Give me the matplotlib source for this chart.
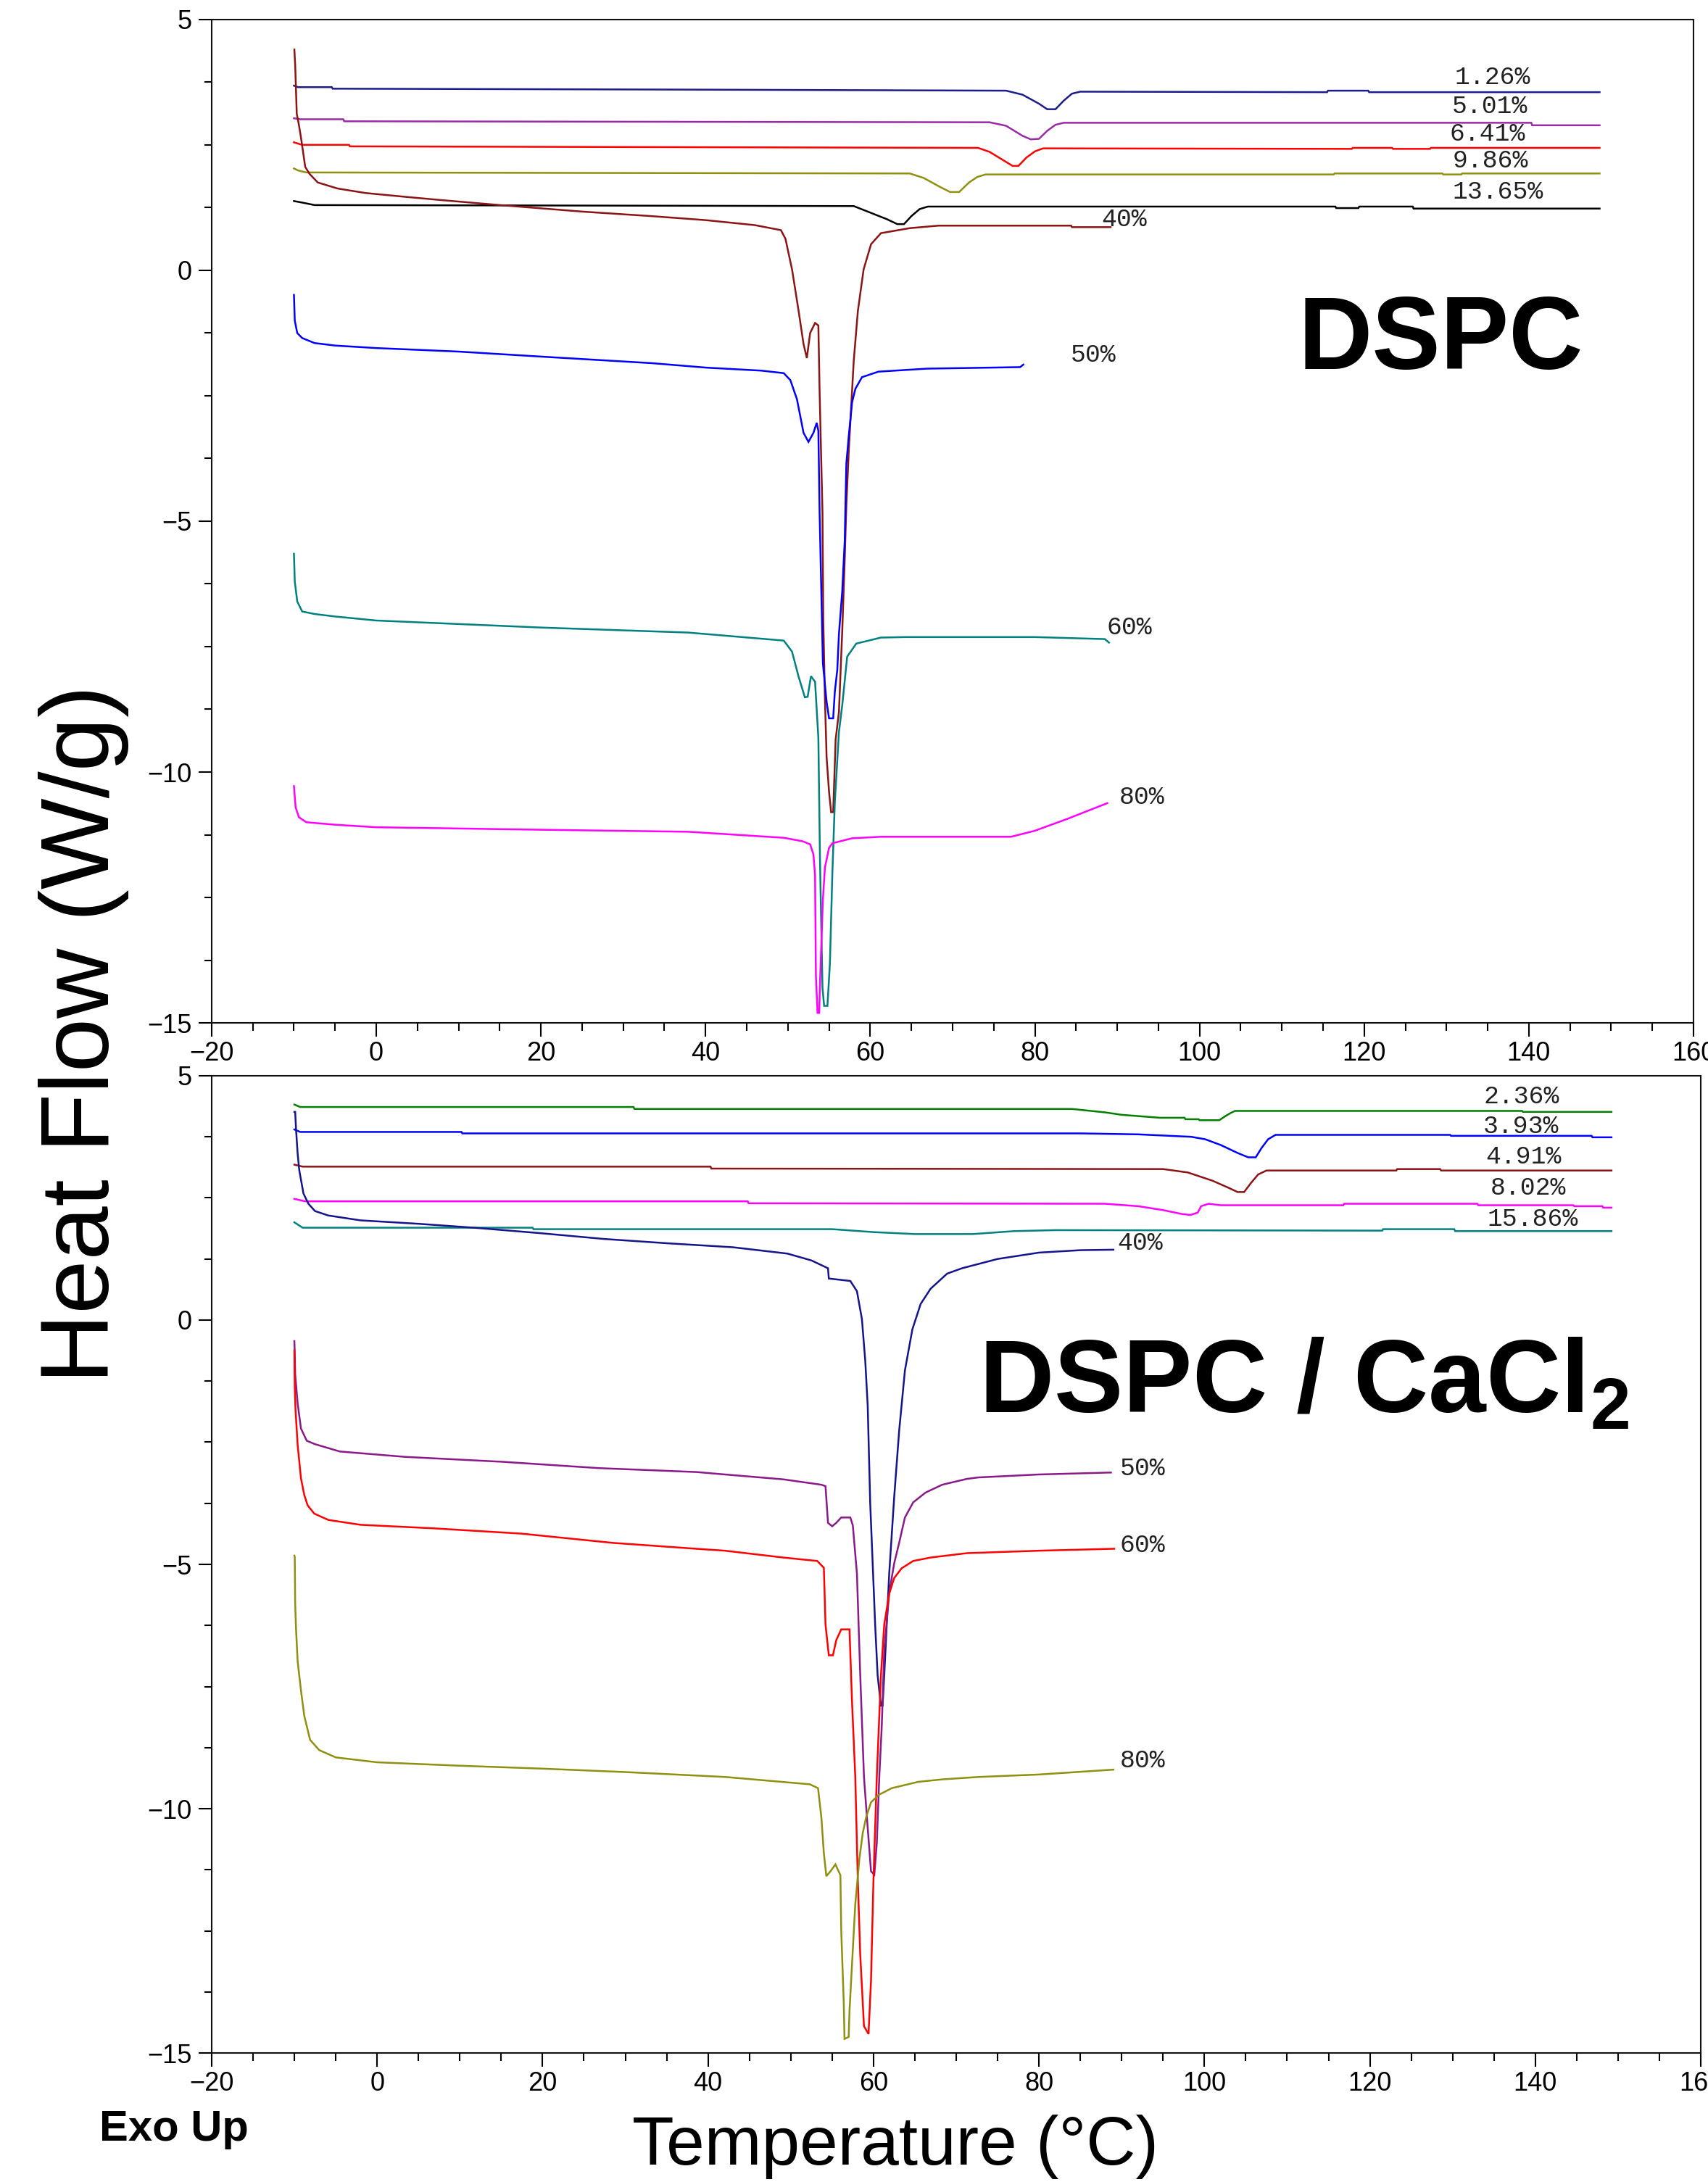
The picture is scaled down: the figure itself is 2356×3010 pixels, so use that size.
import matplotlib
matplotlib.use("Agg")
import matplotlib.pyplot as plt
from matplotlib.ticker import MultipleLocator

plt.rcParams['font.family'] = ['Liberation Sans', 'DejaVu Sans']
plt.rcParams['mathtext.fontset'] = 'custom'
plt.rcParams['mathtext.rm'] = 'Liberation Sans'
plt.rcParams['mathtext.bf'] = 'Liberation Sans:bold'

# ---- DSPC (top panel): (temperature degC, heat flow W/g) ----
dspc_1_26 = [(-10, 3.68), (-9.5, 3.65), (-5.4, 3.65), (-5.3, 3.62), (40, 3.60), (76.5, 3.58),
             (78.5, 3.50), (80.5, 3.32), (81.5, 3.21), (82.5, 3.21), (83.5, 3.38), (84.5, 3.52),
             (85.5, 3.56), (115.5, 3.55), (115.6, 3.58), (120.5, 3.58), (120.6, 3.55), (148.6, 3.55)]
dspc_5_01 = [(-10, 3.03), (-9.2, 3.01), (-4.0, 3.01), (-3.9, 2.97), (74.5, 2.95), (76.5, 2.88),
             (78.5, 2.68), (79.5, 2.61), (80.5, 2.62), (81.5, 2.78), (82.5, 2.90), (83.5, 2.94),
             (140.3, 2.94), (140.4, 2.89), (148.6, 2.89)]
dspc_6_41 = [(-10, 2.55), (-9.0, 2.50), (-3.3, 2.50), (-3.2, 2.47), (73.1, 2.44), (74.5, 2.36),
             (76.5, 2.16), (77.3, 2.08), (78.0, 2.08), (79.0, 2.25), (80.0, 2.37), (81.0, 2.43),
             (118.5, 2.42), (118.6, 2.44), (123.4, 2.44), (123.5, 2.42), (128.0, 2.42),
             (128.1, 2.44), (148.6, 2.44)]
dspc_9_86 = [(-10, 2.03), (-9.5, 1.99), (-8.5, 1.95), (64.8, 1.93), (66.5, 1.84), (68.5, 1.66),
             (69.7, 1.56), (70.8, 1.56), (72.0, 1.75), (73.0, 1.86), (74.0, 1.91), (116.3, 1.91),
             (116.4, 1.93), (129.5, 1.93), (129.6, 1.91), (131.8, 1.91), (131.9, 1.93), (148.6, 1.93)]
dspc_13_65 = [(-10, 1.38), (-9, 1.35), (-7.5, 1.30), (58.0, 1.28), (60.0, 1.15), (62.0, 1.02),
              (63.3, 0.92), (64.1, 0.92), (65.0, 1.08), (66.0, 1.22), (67.0, 1.27), (116.5, 1.27),
              (116.6, 1.24), (119.3, 1.24), (119.4, 1.27), (125.9, 1.27), (126.0, 1.23), (148.6, 1.23)]
dspc_40 = [(-9.95, 4.40), (-9.85, 4.10), (-9.66, 3.12), (-9.4, 2.90), (-9.14, 2.64), (-8.63, 2.06),
           (-8.1, 1.92), (-7.1, 1.75), (-4.7, 1.63), (-1.3, 1.54), (3.8, 1.46), (7.85, 1.40),
           (15, 1.30), (25, 1.17), (33.4, 1.08), (40, 1.00), (46, 0.90), (49.15, 0.80), (49.7, 0.63),
           (50.5, 0.02), (51.3, -0.81), (51.9, -1.47), (52.3, -1.75), (52.7, -1.25), (53.3, -1.05),
           (53.7, -1.10), (53.85, -2.41), (54.2, -4.83), (54.3, -7.0), (54.5, -8.54), (54.7, -9.7),
           (55.0, -10.4), (55.25, -10.8), (55.5, -10.8), (55.8, -9.35), (56.2, -8.8), (56.6, -7.19),
           (56.9, -5.76), (57.1, -4.67), (57.4, -3.57), (58.0, -1.80), (58.5, -0.81), (59.2, 0.02),
           (60.1, 0.52), (61.3, 0.74), (64.8, 0.84), (68.3, 0.89), (84.4, 0.89), (84.5, 0.86),
           (89.2, 0.86)]
dspc_50 = [(-10, -0.49), (-9.9, -1.0), (-9.6, -1.25), (-9.0, -1.35), (-7.5, -1.45), (-5, -1.50),
           (0, -1.55), (10, -1.62), (20, -1.72), (33.4, -1.85), (40.1, -1.94), (46.8, -2.0),
           (49.5, -2.05), (50.3, -2.19), (51.1, -2.57), (51.9, -3.24), (52.5, -3.42), (53.1, -3.24),
           (53.5, -3.04), (53.7, -3.20), (53.85, -4.83), (54.25, -7.83), (54.7, -8.6), (55.0, -8.93),
           (55.5, -8.93), (55.7, -8.4), (56.0, -7.96), (56.2, -7.25), (56.6, -6.4), (56.9, -5.4),
           (57.1, -3.85), (57.4, -3.29), (57.8, -2.63), (58.2, -2.36), (59.0, -2.13), (61.0, -2.02),
           (66.9, -1.96), (78.2, -1.93), (78.6, -1.88)]
dspc_60 = [(-10, -5.65), (-9.9, -6.2), (-9.6, -6.6), (-9.0, -6.8), (-7.5, -6.85), (-5, -6.9),
           (0, -6.98), (20, -7.12), (37.9, -7.22), (49.5, -7.38), (50.5, -7.6), (51.3, -8.1),
           (52.06, -8.51), (52.4, -8.5), (52.8, -8.09), (53.3, -8.2), (53.7, -9.32), (53.9, -11.77),
           (54.2, -14.3), (54.4, -14.66), (54.8, -14.66), (55.1, -13.83), (55.4, -12.02),
           (55.7, -10.6), (56.2, -9.2), (56.6, -8.67), (57.2, -7.70), (58.3, -7.44), (61.3, -7.32),
           (64.2, -7.31), (80, -7.31), (88.5, -7.35), (89.0, -7.42)]
dspc_80 = [(-10, -10.28), (-9.8, -10.7), (-9.4, -10.9), (-8.5, -11.0), (-5, -11.05), (0, -11.1),
           (20, -11.15), (37.9, -11.19), (46.6, -11.28), (49.5, -11.31), (51.8, -11.38),
           (52.7, -11.44), (53.1, -11.64), (53.3, -12.05), (53.4, -14.05), (53.6, -14.8),
           (53.8, -14.8), (53.9, -14.2), (54.25, -12.54), (54.5, -11.9), (55.0, -11.51),
           (55.4, -11.42), (57.8, -11.32), (61.3, -11.29), (77.1, -11.29), (80, -11.17),
           (84, -10.93), (88.8, -10.62)]

dspc_series = [dspc_1_26, dspc_5_01, dspc_6_41, dspc_9_86, dspc_13_65,
               dspc_40, dspc_50, dspc_60, dspc_80]
dspc_labels = ['1.26%', '5.01%', '6.41%', '9.86%', '13.65%', '40%', '50%', '60%', '80%']
dspc_colors = ['#1c1c8c', '#9a2aa6', '#ff0000', '#8f8f10', '#000000',
               '#8b1414', '#0000ff', '#008080', '#ff00ff']

# ---- DSPC / CaCl2 (bottom panel) ----
cacl_2_36 = [(-10, 4.41), (-9.3, 4.36), (31.0, 4.36), (31.1, 4.32), (84, 4.32), (88, 4.25),
             (90, 4.20), (94.6, 4.14), (97.6, 4.14), (97.7, 4.11), (99.3, 4.11), (99.4, 4.09),
             (101.8, 4.09), (102.5, 4.17), (103.2, 4.24), (103.7, 4.28), (138.4, 4.28),
             (138.5, 4.26), (149.2, 4.26)]
cacl_3_93 = [(-10, 3.90), (-9.3, 3.85), (10.2, 3.85), (10.3, 3.82), (85, 3.82), (92, 3.80),
             (98.4, 3.75), (100.1, 3.70), (102, 3.58), (104, 3.42), (105.3, 3.33), (106.2, 3.33),
             (106.9, 3.52), (107.7, 3.70), (108.6, 3.79), (129.7, 3.79), (129.8, 3.77),
             (146.8, 3.77), (146.9, 3.74), (149.2, 3.74)]
cacl_4_91 = [(-10, 3.18), (-9.0, 3.14), (40.3, 3.14), (40.4, 3.10), (95, 3.09), (98, 3.02),
             (101, 2.85), (103, 2.70), (104.0, 2.62), (104.8, 2.62), (105.6, 2.80), (106.5, 2.98),
             (107.5, 3.06), (123.2, 3.06), (123.3, 3.09), (128.5, 3.09), (128.6, 3.06), (149.2, 3.06)]
cacl_8_02 = [(-10, 2.48), (-8.7, 2.43), (44.8, 2.43), (44.9, 2.39), (88, 2.38), (92, 2.33),
             (95, 2.25), (97.3, 2.17), (98.3, 2.15), (99.2, 2.20), (99.6, 2.33), (100.5, 2.38),
             (102, 2.35), (116.8, 2.35), (116.9, 2.38), (133.0, 2.38), (133.1, 2.35),
             (144.6, 2.35), (144.7, 2.33), (148.1, 2.33), (148.2, 2.30), (149.2, 2.30)]
cacl_15_86 = [(-10, 2.0), (-9.0, 1.89), (18.8, 1.89), (18.9, 1.86), (55, 1.86), (60, 1.80),
              (65, 1.76), (72, 1.76), (77, 1.82), (82, 1.84), (121.5, 1.83), (121.6, 1.86),
              (130.2, 1.86), (130.3, 1.82), (149.2, 1.82)]
cacl_40 = [(-10.0, 4.26), (-9.9, 4.26), (-9.8, 3.91), (-9.6, 3.40), (-9.4, 3.06), (-8.9, 2.59),
           (-8.3, 2.38), (-7.5, 2.23), (-5.9, 2.14), (-2.0, 2.04), (5.0, 1.97), (11.7, 1.89),
           (19.6, 1.78), (27.4, 1.66), (35.2, 1.57), (43.0, 1.49), (49.6, 1.36), (52.5, 1.22),
           (54.0, 1.10), (54.5, 1.06), (54.6, 0.85), (57.2, 0.80), (58.0, 0.59), (58.6, 0.02),
           (59.0, -0.82), (59.3, -1.75), (59.6, -3.73), (59.9, -4.98), (60.2, -6.23), (60.5, -7.27),
           (60.9, -7.89), (61.1, -7.89), (61.3, -7.27), (61.6, -6.23), (61.9, -5.19), (62.5, -3.63),
           (63.1, -2.27), (63.8, -1.03), (64.7, -0.19), (65.7, 0.33), (66.9, 0.64), (68.9, 0.95),
           (70.7, 1.06), (75, 1.25), (80, 1.38), (85, 1.43), (89.0, 1.44)]
cacl_50 = [(-10.0, -0.43), (-9.95, -0.69), (-9.9, -1.11), (-9.6, -1.71), (-9.2, -2.22),
           (-8.5, -2.47), (-7.5, -2.54), (-4.5, -2.69), (3.4, -2.80), (15.1, -2.90), (26.8, -3.03),
           (38.6, -3.11), (42.05, -3.16), (49.1, -3.26), (53.7, -3.37), (54.2, -3.4), (54.5, -4.15),
           (55.0, -4.22), (55.5, -4.15), (56.1, -4.04), (57.2, -4.04), (57.5, -4.2), (58.0, -5.19),
           (58.4, -7.27), (58.85, -9.35), (59.3, -10.39), (59.7, -11.28), (60.1, -11.35),
           (60.4, -10.7), (60.7, -9.35), (61.0, -8.31), (61.3, -6.75), (61.9, -5.6), (62.2, -5.28),
           (62.5, -4.98), (63.1, -4.56), (63.8, -4.04), (64.8, -3.73), (66.3, -3.53), (68.3, -3.37),
           (71.3, -3.25), (72.7, -3.22), (80, -3.16), (88.7, -3.12)]
cacl_60 = [(-10.0, -0.62), (-9.95, -1.37), (-9.86, -1.84), (-9.6, -2.56), (-9.2, -3.24),
           (-8.8, -3.58), (-8.4, -3.79), (-7.6, -3.96), (-5.9, -4.09), (-2.0, -4.19), (6.6, -4.26),
           (17.4, -4.37), (28.5, -4.56), (39.4, -4.69), (42.05, -4.72), (49.1, -4.86),
           (53.2, -4.93), (54.0, -5.07), (54.2, -6.23), (54.6, -6.86), (55.1, -6.86), (55.5, -6.55),
           (56.1, -6.33), (57.1, -6.33), (57.4, -7.79), (57.8, -9.35), (58.1, -11.43),
           (58.4, -12.99), (58.85, -14.45), (59.4, -14.61), (59.7, -13.52), (60.0, -11.43),
           (60.4, -9.35), (60.9, -7.27), (61.3, -6.23), (61.9, -5.60), (62.5, -5.28), (63.4, -5.08),
           (64.8, -4.93), (66.9, -4.86), (71.3, -4.77), (80, -4.72), (89.1, -4.68)]
cacl_80 = [(-10.0, -4.82), (-9.95, -4.85), (-9.9, -5.80), (-9.8, -6.31), (-9.6, -6.99),
           (-9.2, -7.58), (-8.8, -8.10), (-8.1, -8.59), (-7, -8.8), (-5, -8.95), (0, -9.05),
           (10, -9.12), (20, -9.18), (30, -9.25), (42.05, -9.35), (52.3, -9.5), (53.3, -9.58),
           (53.7, -10.18), (54.0, -10.91), (54.3, -11.38), (54.8, -11.28), (55.4, -11.14),
           (56.0, -11.36), (56.1, -12.48), (56.4, -13.94), (56.5, -14.71), (57.0, -14.67),
           (57.1, -14.14), (57.4, -13.2), (57.8, -11.95), (58.3, -11.02), (58.7, -10.5),
           (59.1, -10.18), (59.7, -9.87), (60.6, -9.72), (62.2, -9.58), (65.4, -9.45), (68.3, -9.4),
           (72.7, -9.35), (80, -9.3), (89.0, -9.2)]

cacl_series = [cacl_2_36, cacl_3_93, cacl_4_91, cacl_8_02, cacl_15_86,
               cacl_40, cacl_50, cacl_60, cacl_80]
cacl_labels = ['2.36%', '3.93%', '4.91%', '8.02%', '15.86%', '40%', '50%', '60%', '80%']
cacl_colors = ['#008000', '#0000ff', '#8b1414', '#ff00ff', '#008080',
               '#14148c', '#8a1a8a', '#ff0000', '#8f8f10']

# where the curve labels sit (data coords)
dspc_label_xy = [(135.6, 3.85), (135.3, 3.27), (135.0, 2.72), (135.3, 2.19), (136.2, 1.56),
                 (90.8, 1.01), (87.1, -1.69), (91.5, -7.12), (93.0, -10.5)]
cacl_label_xy = [(138.3, 4.57), (138.3, 3.97), (138.6, 3.34), (139.1, 2.71), (139.7, 2.07),
                 (92.2, 1.58), (92.5, -3.03), (92.5, -4.6), (92.5, -9.01)]


def draw_panel(ax, series, colors, labels, label_xy):
    for pts, col in zip(series, colors):
        t = [p[0] for p in pts]
        hf = [p[1] for p in pts]
        ax.plot(t, hf, color=col, lw=1.8, solid_joinstyle='miter')
    for lab, (x, y) in zip(labels, label_xy):
        ax.text(x, y, lab, ha='center', va='center', fontsize=25,
                family=['Liberation Mono', 'DejaVu Sans Mono'], color='#222222')

    ax.set_xlim(-20, 160)
    ax.set_ylim(-15, 5)
    ax.xaxis.set_major_locator(MultipleLocator(20))
    ax.xaxis.set_minor_locator(MultipleLocator(5))
    ax.yaxis.set_major_locator(MultipleLocator(5))
    ax.yaxis.set_minor_locator(MultipleLocator(1.25))
    ax.tick_params(which='both', direction='out', width=1.5, labelsize=26,
                   top=False, right=False, colors='black')
    ax.tick_params(axis='x', which='major', length=14, pad=4)
    ax.tick_params(axis='x', which='minor', length=8)
    ax.tick_params(axis='y', which='major', length=13, pad=7)
    ax.tick_params(axis='y', which='minor', length=7)
    for sp in ax.spines.values():
        sp.set_linewidth(1.5)
        sp.set_color('#111111')


fig = plt.figure(figsize=(23.56, 30.10), dpi=100)

ax_top = fig.add_axes([0.1239, 0.5312, 0.8676, 0.4599])
ax_bot = fig.add_axes([0.1239, 0.0591, 0.8719, 0.4479])

draw_panel(ax_top, dspc_series, dspc_colors, dspc_labels, dspc_label_xy)
draw_panel(ax_bot, cacl_series, cacl_colors, cacl_labels, cacl_label_xy)

fig.text(0.760, 0.831, 'DSPC', fontsize=102, fontweight='bold', ha='left', va='baseline')
fig.text(0.573, 0.3525, r'DSPC / CaCl$_{\mathbf{2}}$', fontsize=103, fontweight='bold',
         ha='left', va='baseline')

fig.text(0.049, 0.526, 'Heat Flow (W/g)', rotation=90, fontsize=96,
         ha='center', va='center')
fig.text(0.524, 0.016, 'Temperature (\u00b0C)', fontsize=68, ha='center', va='center')
fig.text(0.102, 0.024, 'Exo Up', fontsize=43, fontweight='bold', ha='center', va='center')

fig.savefig('out.png', dpi=100)
